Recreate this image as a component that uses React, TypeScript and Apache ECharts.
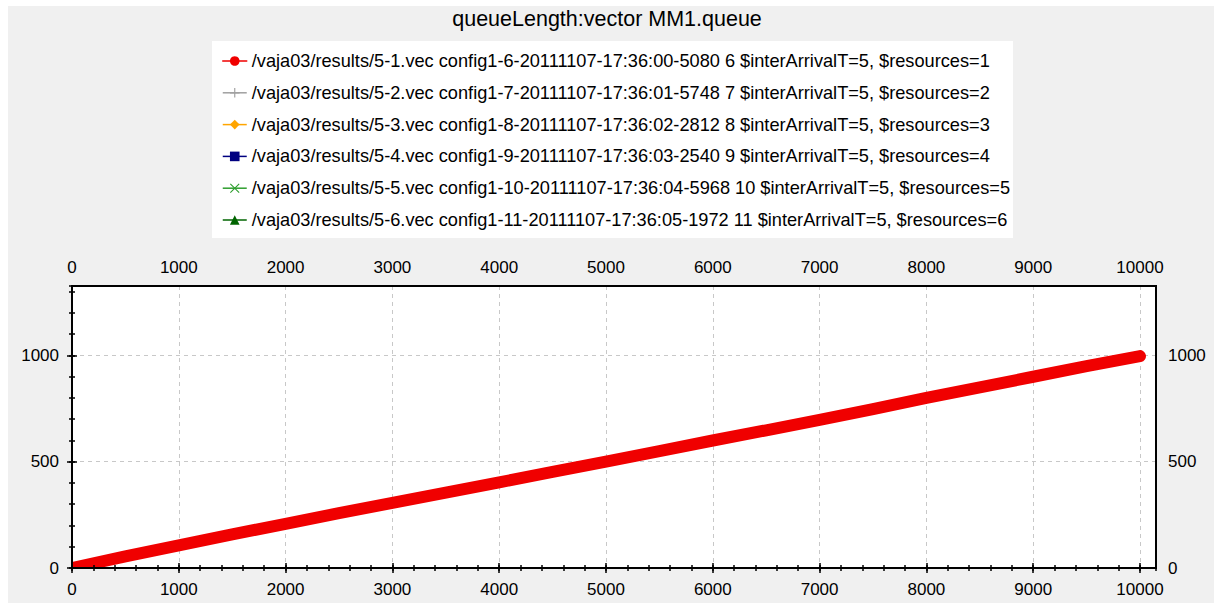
import React, { useEffect, useRef } from "react";
import * as echarts from "echarts";

const chartTitle = "queueLength:vector MM1.queue";

const seriesNames = [
  "/vaja03/results/5-1.vec config1-6-20111107-17:36:00-5080 6 $interArrivalT=5, $resources=1",
  "/vaja03/results/5-2.vec config1-7-20111107-17:36:01-5748 7 $interArrivalT=5, $resources=2",
  "/vaja03/results/5-3.vec config1-8-20111107-17:36:02-2812 8 $interArrivalT=5, $resources=3",
  "/vaja03/results/5-4.vec config1-9-20111107-17:36:03-2540 9 $interArrivalT=5, $resources=4",
  "/vaja03/results/5-5.vec config1-10-20111107-17:36:04-5968 10 $interArrivalT=5, $resources=5",
  "/vaja03/results/5-6.vec config1-11-20111107-17:36:05-1972 11 $interArrivalT=5, $resources=6",
];

const seriesColors = ["#f00000", "#a0a0a0", "#ffa500", "#000080", "#2e9e2e", "#006400"];

const plusSymbol = "path://M4.4,0 H5.6 V4.4 H10 V5.6 H5.6 V10 H4.4 V5.6 H0 V4.4 H4.4 Z";
const crossSymbol = "path://M0,0.8 L0.8,0 L5,4.2 L9.2,0 L10,0.8 L5.8,5 L10,9.2 L9.2,10 L5,5.8 L0.8,10 L0,9.2 L4.2,5 Z";
const seriesSymbols = ["circle", plusSymbol, "diamond", "rect", crossSymbol, "triangle"];

// simulation time (x) of sampled points of the resources=1 queue
const timeValues1 = [0, 500, 1000, 1500, 2000, 2500, 3000, 3500, 4000, 4500, 5000,
  5500, 6000, 6500, 7000, 7500, 8000, 8500, 9000, 9500, 10000];
// queue length (y) of the resources=1 queue
const queueValues1 = [0, 55, 107, 158, 208, 258, 306, 355, 403, 452, 501,
  550, 600, 648, 697, 748, 800, 850, 900, 950, 997];

// other configurations: queue stays empty (single record at t=0)
const timeValuesOther = [0];
const queueValuesOther = [0];

const xMajorTicks = ["0", "1000", "2000", "3000", "4000", "5000", "6000", "7000", "8000", "9000", "10000"];
const yMajorTicks = ["0", "500", "1000"];

const X_MAX = 10150;
const Y_MAX = 1327;

export default function App() {
  const ref = useRef<HTMLDivElement>(null);

  useEffect(() => {
    document.body.style.margin = "0";
    if (!ref.current) return;
    const chart = echarts.init(ref.current, undefined, { renderer: "svg" });

    const font = "'Liberation Sans', Arial, sans-serif";
    const labelStyle = { color: "#000", fontSize: 17, fontFamily: font };
    const split = { show: true, lineStyle: { color: "#c8c8c8", type: [4, 4], width: 1 } };

    const fmt = (list: string[]) => (v: number) => (list.indexOf(String(v)) >= 0 ? String(v) : "");

    // kind: "minor" (axis line + minor ticks), "major" (major ticks + labels), "grid" (split lines only)
    const xAxisBase = (position: string, kind: string) => ({
      type: "value",
      position,
      min: 0,
      max: X_MAX,
      interval: kind === "minor" ? 200 : 1000,
      offset: 3,
      z: kind === "grid" ? 0 : 10,
      axisLine: { show: kind === "minor", lineStyle: { color: "#000", width: 2 } },
      axisTick: {
        show: kind !== "grid",
        inside: false,
        length: kind === "major" ? 5 : 3,
        lineStyle: { color: "#000", width: 1.5 },
      },
      axisLabel: kind === "major"
        ? { show: true, margin: position === "top" ? 7 : 10, showMaxLabel: false, formatter: fmt(xMajorTicks), ...labelStyle }
        : { show: false },
      splitLine: kind === "grid" ? split : { show: false },
    });

    const yAxisBase = (position: string, kind: string) => ({
      type: "value",
      position,
      min: 0,
      max: Y_MAX,
      interval: kind === "minor" ? 100 : 500,
      offset: 3,
      z: kind === "grid" ? 0 : 10,
      axisLine: { show: kind === "minor", lineStyle: { color: "#000", width: 2 } },
      axisTick: {
        show: kind !== "grid",
        inside: false,
        length: kind === "major" ? 5 : 3,
        lineStyle: { color: "#000", width: 1.5 },
      },
      axisLabel: kind === "major"
        ? { show: true, margin: position === "left" ? 10 : 9, showMaxLabel: false, formatter: fmt(yMajorTicks), ...labelStyle }
        : { show: false },
      splitLine: kind === "grid" ? split : { show: false },
    });

    const makeData = (xs: number[], ys: number[]) => xs.map((x, i) => [x, ys[i]]);

    const series: any[] = [];
    for (let i = 1; i < seriesNames.length; i++) {
      series.push({
        type: "line",
        name: seriesNames[i],
        data: makeData(timeValuesOther, queueValuesOther),
        symbol: seriesSymbols[i],
        showSymbol: false,
        color: seriesColors[i],
        lineStyle: { width: 1.5, color: seriesColors[i] },
        itemStyle: { color: seriesColors[i] },
        xAxisIndex: 0,
        yAxisIndex: 0,
      });
    }
    series.push({
      type: "line",
      name: seriesNames[0],
      data: makeData(timeValues1, queueValues1),
      symbol: seriesSymbols[0],
      showSymbol: false,
      color: seriesColors[0],
      lineStyle: { width: 12, color: seriesColors[0], cap: "round", join: "round" },
      itemStyle: { color: seriesColors[0] },
      xAxisIndex: 0,
      yAxisIndex: 0,
      z: 3,
    });

    const gridLeft = 72;
    const gridTop = 286;
    const gridW = 1214 - 72 - 58;
    const gridH = 603 - 286 - 35;

    chart.setOption({
      animation: false,
      backgroundColor: "#ffffff",
      graphic: [
        {
          type: "rect",
          silent: true,
          z: -10,
          shape: { x: 8, y: 6, width: 1206, height: 597 },
          style: { fill: "#f0f0f0" },
        },
        // masks over the line cap leaking out of the plot frame
        {
          type: "rect",
          silent: true,
          z: 5,
          shape: { x: 50, y: gridTop + gridH + 1, width: 60, height: 9 },
          style: { fill: "#f0f0f0" },
        },
        {
          type: "rect",
          silent: true,
          z: 5,
          shape: { x: 58, y: gridTop + gridH - 20, width: gridLeft - 59, height: 30 },
          style: { fill: "#f0f0f0" },
        },
        // plot frame
        {
          type: "rect",
          silent: true,
          z: 6,
          shape: { x: gridLeft, y: gridTop, width: gridW, height: gridH },
          style: { fill: "none", stroke: "#000", lineWidth: 2 },
        },
      ],
      title: {
        text: chartTitle,
        left: "center",
        top: 6,
        padding: 0,
        textStyle: { fontSize: 21.5, fontWeight: "normal", color: "#000", fontFamily: font, lineHeight: 26 },
      },
      legend: {
        show: true,
        orient: "vertical",
        left: 212,
        top: 41,
        padding: [11, 3, 9, 10],
        backgroundColor: "#ffffff",
        itemGap: 13.8,
        itemWidth: 24,
        itemHeight: 12,
        selectedMode: false,
        data: seriesNames,
        lineStyle: { width: 1.5 },
        textStyle: { fontSize: 18.2, color: "#000", fontFamily: font, lineHeight: 18 },
      },
      grid: {
        left: gridLeft,
        right: 58,
        top: gridTop,
        bottom: 35,
        show: true,
        backgroundColor: "#ffffff",
        borderWidth: 0,
        containLabel: false,
      },
      xAxis: [
        xAxisBase("bottom", "minor"),
        xAxisBase("bottom", "major"),
        xAxisBase("top", "minor"),
        xAxisBase("top", "major"),
        xAxisBase("bottom", "grid"),
      ],
      yAxis: [
        yAxisBase("left", "minor"),
        yAxisBase("left", "major"),
        yAxisBase("right", "minor"),
        yAxisBase("right", "major"),
        yAxisBase("left", "grid"),
      ],
      series,
    });

    return () => chart.dispose();
  }, []);

  return <div ref={ref} style={{ width: 1214, height: 603 }} />;
}
